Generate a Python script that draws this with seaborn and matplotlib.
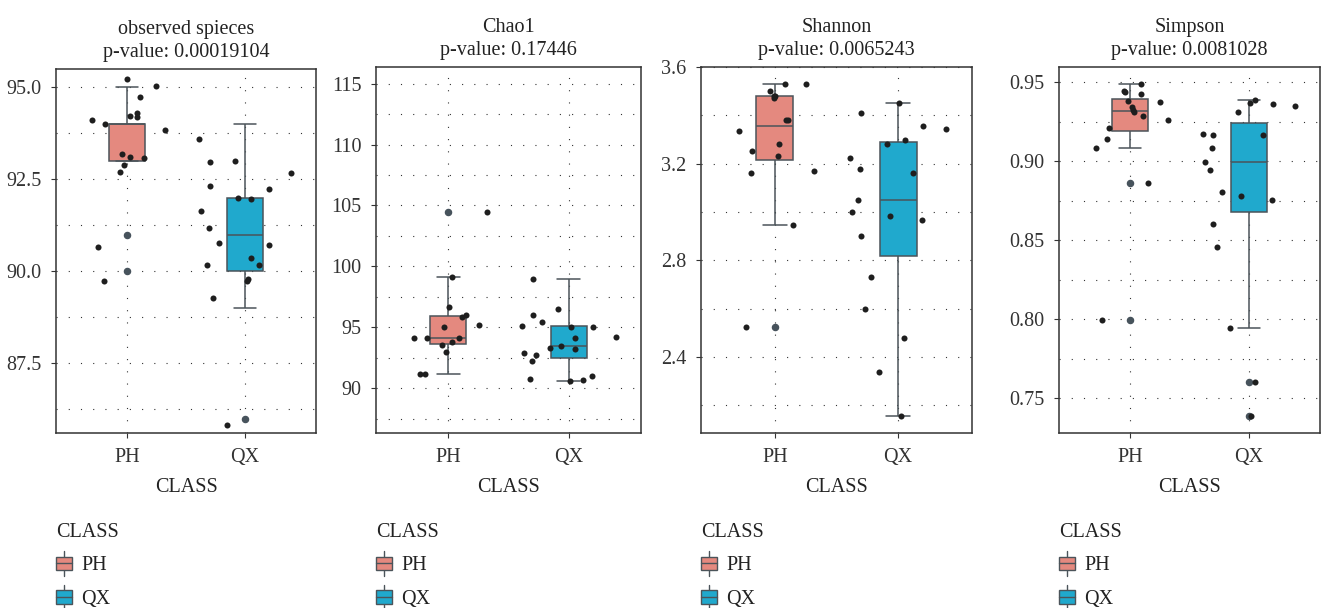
import pandas as pd
import matplotlib.pyplot as plt
import seaborn as sns
from matplotlib.legend_handler import HandlerBase
from matplotlib.patches import Rectangle, Patch
from matplotlib.lines import Line2D

groups = ['PH', 'QX']
palette = {'PH': '#E4897F', 'QX': '#20A9CD'}
edge = '#4B545A'
dot_col = '#1E1E1E'
flier_col = '#47535C'

titles = ['observed spieces', 'Chao1', 'Shannon', 'Simpson']
pvalues = ['0.00019104', '0.17446', '0.0065243', '0.0081028']

# observed species: integer counts (box stats), plus y-jittered points as drawn
obs_ph = [95, 95, 95, 94, 94, 94, 94, 94, 94, 93, 93, 93, 93, 93, 91, 90]
obs_qx = [94, 93, 93, 93, 92, 92, 92, 92, 92, 91, 91, 91, 90, 90, 90, 90, 90, 89, 86]
obs_ph_pts = [95.23, 95.05, 94.75, 94.31, 94.22, 94.19, 94.11, 94.01, 93.84,
              93.19, 93.11, 93.07, 92.88, 92.71, 90.66, 89.73]
obs_qx_pts = [93.60, 92.98, 93.01, 92.67, 92.31, 92.23, 92.00, 91.97, 91.63, 91.18,
              90.78, 90.71, 90.18, 90.36, 90.18, 89.79, 89.75, 89.28, 85.84]
obs_ph_dx = [0.0, 0.244, 0.111, 0.082, 0.023, 0.082, -0.295, -0.188, 0.321,
             -0.045, 0.026, 0.145, -0.023, -0.057, -0.244, -0.196]
obs_qx_dx = [-0.389, -0.298, -0.088, 0.392, -0.298, 0.205, -0.063, 0.051, -0.375, -0.307,
             -0.222, 0.199, -0.324, 0.051, 0.119, 0.026, 0.014, -0.273, -0.153]

chao_ph = [104.45, 99.13, 96.67, 96.04, 95.85, 95.16, 95.00, 94.15, 94.10, 94.15,
           93.50, 93.77, 93.00, 91.12, 91.12]
chao_qx = [98.96, 96.48, 95.98, 95.46, 95.11, 95.05, 95.00, 94.13, 94.18, 93.33,
           93.42, 93.22, 92.84, 92.68, 92.21, 90.77, 90.60, 90.68, 91.01]
chao_ph_dx = [0.321, 0.028, 0.003, 0.150, 0.114, 0.252, -0.039, -0.288, -0.180, 0.089,
              -0.050, 0.030, -0.017, -0.238, -0.191]
chao_qx_dx = [-0.299, -0.089, -0.299, -0.222, -0.388, 0.022, 0.202, 0.053, 0.391, -0.155,
              -0.064, 0.050, -0.371, -0.269, -0.307, -0.321, 0.011, 0.119, 0.197]

shan_ph = [3.528, 3.531, 3.501, 3.473, 3.479, 3.482, 3.381, 3.381, 3.334, 3.281,
           3.252, 3.233, 3.162, 3.168, 2.948, 2.524]
shan_qx = [3.451, 3.410, 3.355, 3.344, 3.283, 3.300, 3.224, 3.180, 3.161, 3.050,
           3.001, 2.985, 2.967, 2.900, 2.733, 2.601, 2.477, 2.337, 2.155]
shan_ph_dx = [0.084, 0.249, -0.043, -0.011, 0.0, -0.005, 0.089, 0.108, -0.293, 0.030,
              -0.182, 0.027, -0.192, 0.320, 0.146, -0.238]
shan_qx_dx = [0.011, -0.298, 0.203, 0.390, -0.087, 0.054, -0.388, -0.306, 0.119, -0.322,
              -0.374, -0.062, 0.198, -0.298, -0.222, -0.271, 0.051, -0.157, 0.022]

simp_ph = [0.9489, 0.9441, 0.9437, 0.9422, 0.9374, 0.9382, 0.9342, 0.9325, 0.9308, 0.9283,
           0.9262, 0.9209, 0.9138, 0.9085, 0.8860, 0.7991]
simp_qx = [0.9388, 0.9367, 0.9359, 0.9346, 0.9313, 0.9174, 0.9167, 0.9167, 0.9083, 0.8995,
           0.8942, 0.8803, 0.8778, 0.8753, 0.8599, 0.8456, 0.7942, 0.7601, 0.7386]
simp_ph_dx = [0.090, -0.048, -0.042, 0.087, 0.249, -0.017, 0.017, 0.022, 0.028, 0.112,
              0.322, -0.182, -0.193, -0.291, 0.148, -0.238]
simp_qx_dx = [0.048, 0.011, 0.202, 0.387, -0.090, -0.387, -0.300, 0.118, -0.308, -0.373,
              -0.325, -0.224, -0.064, 0.196, -0.300, -0.272, -0.157, 0.048, 0.020]

# axis settings per panel
ylims = [(85.61, 95.50), (86.31, 116.37), (2.086, 3.60), (0.7279, 0.9595)]
major_ticks = [[87.5, 90.0, 92.5, 95.0], [90, 95, 100, 105, 110, 115],
               [2.4, 2.8, 3.2, 3.6], [0.75, 0.80, 0.85, 0.90, 0.95]]
minor_ticks = [[86.25, 88.75, 91.25, 93.75], [87.5, 92.5, 97.5, 102.5, 107.5, 112.5],
               [2.2, 2.6, 3.0, 3.4], [0.775, 0.825, 0.875, 0.925]]
tick_fmt = ['{:.1f}', '{:.0f}', '{:.1f}', '{:.2f}']

panels = [
    (obs_ph, obs_qx, obs_ph_pts, obs_qx_pts, obs_ph_dx, obs_qx_dx),
    (chao_ph, chao_qx, chao_ph, chao_qx, chao_ph_dx, chao_qx_dx),
    (shan_ph, shan_qx, shan_ph, shan_qx, shan_ph_dx, shan_qx_dx),
    (simp_ph, simp_qx, simp_ph, simp_qx, simp_ph_dx, simp_qx_dx),
]

# panel boxes in pixels: left, right, top, bottom
W, H = 1323, 608
boxes = [(56, 316, 69, 433), (376, 641, 67, 433), (701, 972, 67, 433), (1059, 1320, 67, 433)]

sns.set_style('white')
plt.rcParams['font.family'] = ['Liberation Serif', 'DejaVu Serif']
plt.rcParams['font.size'] = 14.5
plt.rcParams['text.color'] = '#222222'
plt.rcParams['axes.labelcolor'] = '#222222'
plt.rcParams['xtick.color'] = '#333333'
plt.rcParams['ytick.color'] = '#333333'


class BoxHandler(HandlerBase):
    def create_artists(self, legend, orig_handle, xdescent, ydescent, width, height, fontsize, trans):
        x0, y0 = -xdescent, -ydescent
        cx = x0 + width / 2
        wl = Line2D([cx, cx], [y0 - 0.4 * height, y0 + 1.4 * height], color=edge, lw=1, transform=trans)
        box = Rectangle((x0, y0), width, height, facecolor=orig_handle.get_facecolor(),
                        edgecolor=edge, lw=1, transform=trans)
        med = Line2D([x0, x0 + width], [y0 + height / 2] * 2, color=edge, lw=1, transform=trans)
        return [wl, box, med]


fig = plt.figure(figsize=(W / 100, H / 100), dpi=100)

for i, (ph, qx, ph_pts, qx_pts, ph_dx, qx_dx) in enumerate(panels):
    l, r, t, b = boxes[i]
    ax = fig.add_axes([l / W, 1 - b / H, (r - l) / W, (b - t) / H])

    df = pd.DataFrame({'CLASS': ['PH'] * len(ph) + ['QX'] * len(qx), 'value': ph + qx})
    sns.boxplot(data=df, x='CLASS', y='value', hue='CLASS', order=groups, hue_order=groups,
                palette=palette, saturation=1, width=0.3, linecolor=edge, linewidth=1.1,
                legend=False,
                flierprops=dict(marker='o', markersize=4.4, markerfacecolor=flier_col,
                                markeredgecolor=flier_col),
                capwidths=0.19, ax=ax)

    pts = pd.DataFrame({
        'x': [0 + d for d in ph_dx] + [1 + d for d in qx_dx],
        'y': ph_pts + qx_pts,
    })
    sns.scatterplot(data=pts, x='x', y='y', color=dot_col, s=19, linewidth=0,
                    legend=False, zorder=4, ax=ax)

    ax.set_xlim(-0.6, 1.6)
    ax.set_ylim(*ylims[i])
    ax.set_xticks([0, 1], groups)
    ax.set_yticks(major_ticks[i], [tick_fmt[i].format(v) for v in major_ticks[i]])
    ax.set_yticks(minor_ticks[i], minor=True)
    ax.tick_params(which='major', length=3.5, width=0.8, pad=7, direction='out',
                   left=True, bottom=True, labelsize=14.5)
    ax.tick_params(which='minor', length=0)
    ax.set_axisbelow(True)
    ax.yaxis.grid(True, which='both', color='#333333', linewidth=0.8, linestyle=(0, (1, 10)))
    ax.xaxis.grid(True, which='major', color='#333333', linewidth=0.8, linestyle=(0, (1, 10)))
    for sp in ax.spines.values():
        sp.set_color('#333333')
        sp.set_linewidth(1.1)
    ax.set_xlabel('CLASS', fontsize=14.5, labelpad=8)
    ax.set_ylabel('')
    ax.set_title(f'{titles[i]}\np-value: {pvalues[i]}', fontsize=14.5, pad=9, linespacing=1.25)

    handles = [Patch(facecolor=palette[g]) for g in groups]
    ax.legend(handles, groups, handler_map={Patch: BoxHandler()}, title='CLASS',
              loc='upper left', bbox_to_anchor=(l / W, 1 - 523 / H),
              bbox_transform=fig.transFigure, frameon=False, borderpad=0,
              borderaxespad=0, handlelength=0.8, handleheight=0.65, handletextpad=0.45,
              labelspacing=0.72, fontsize=14.5, title_fontsize=14.5, alignment='left')

fig.savefig('out.png', dpi=100)
